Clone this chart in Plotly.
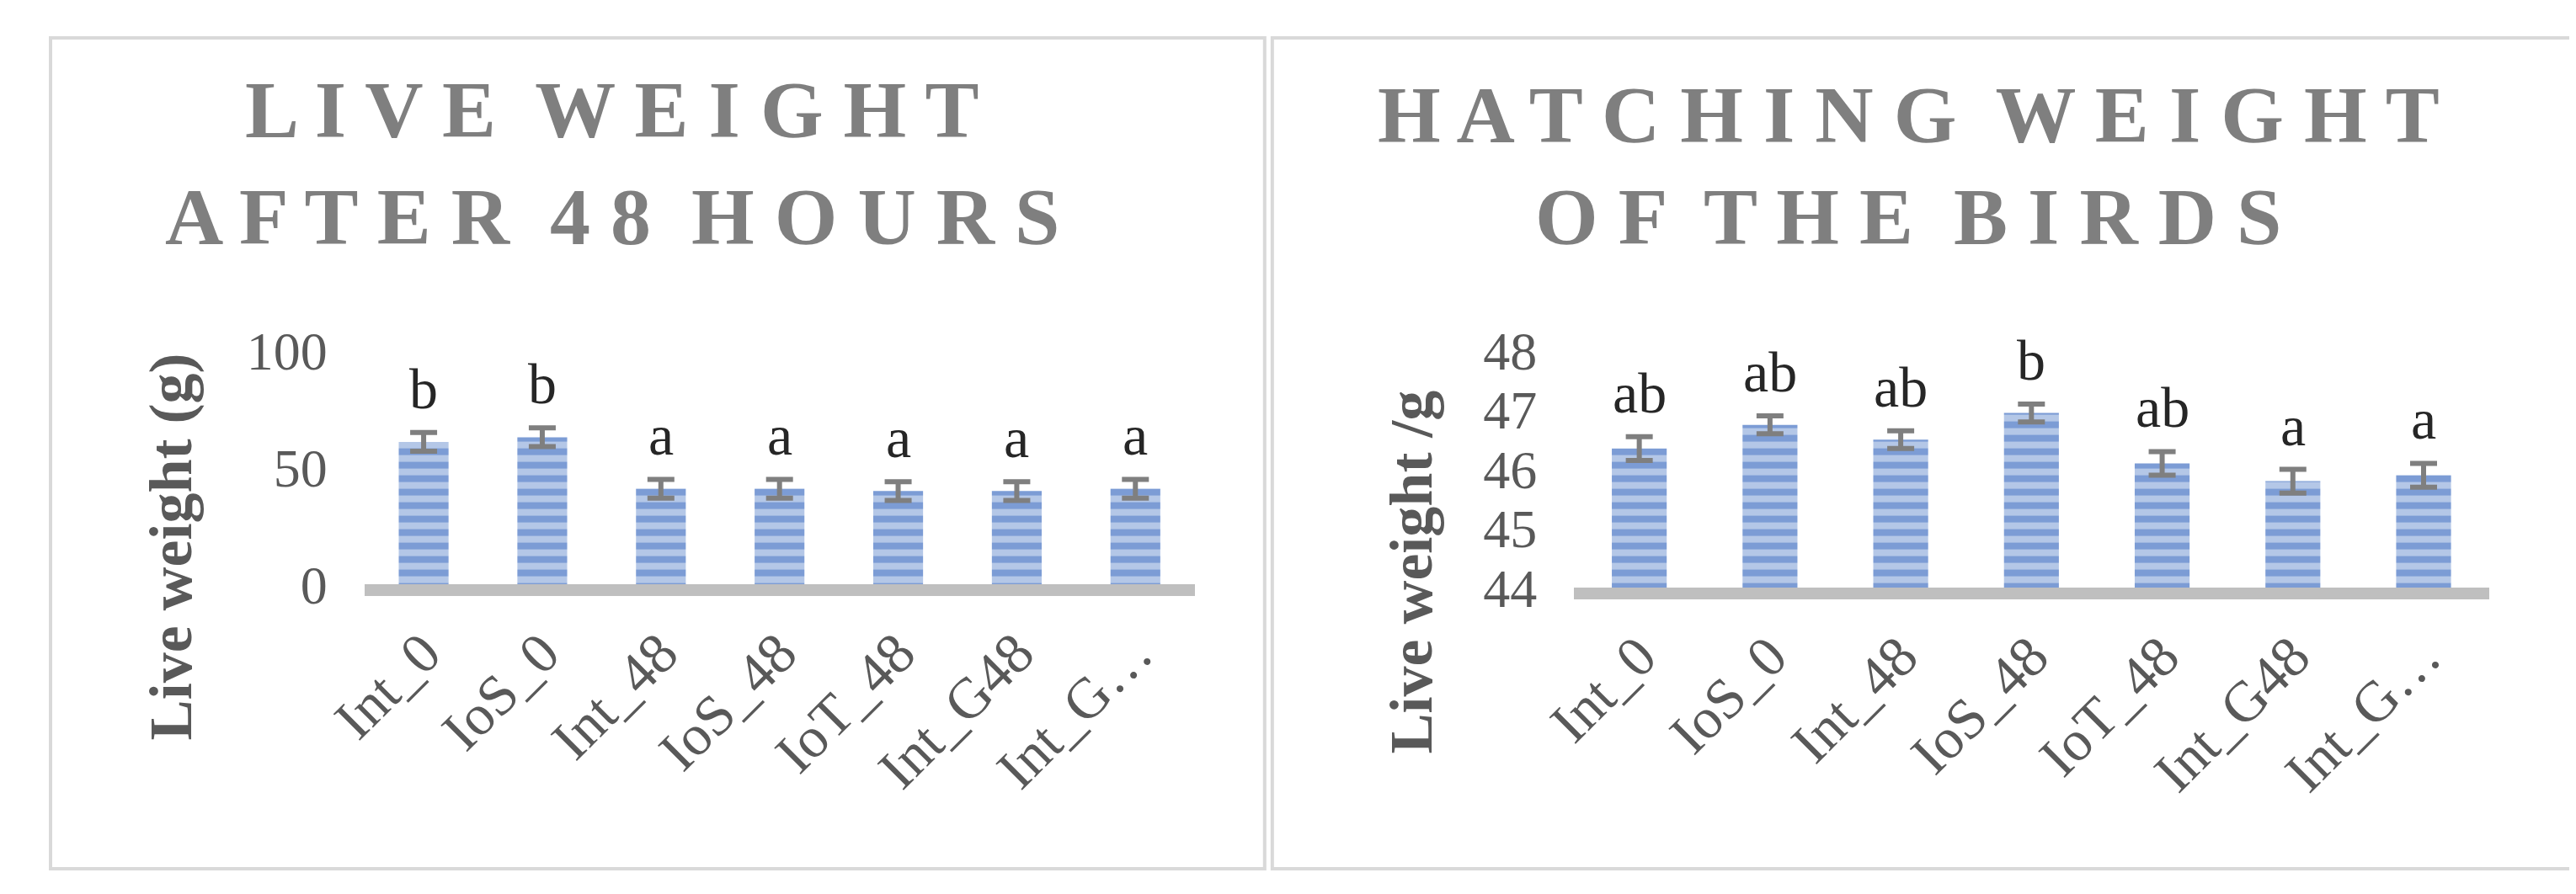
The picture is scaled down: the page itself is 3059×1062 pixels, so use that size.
import plotly.graph_objects as go

categories = ["Int_0", "IoS_0", "Int_48", "IoS_48", "IoT_48", "Int_G48", "Int_G…"]
live_48h = [61, 63, 41, 41, 40, 40, 41]
live_48h_err = [4, 4, 4, 4, 4, 4, 4]
live_48h_letters = ["b", "b", "a", "a", "a", "a", "a"]
hatch = [46.35, 46.75, 46.5, 46.95, 46.1, 45.8, 45.9]
hatch_err = [0.2, 0.15, 0.15, 0.15, 0.2, 0.2, 0.2]
hatch_letters = ["ab", "ab", "ab", "b", "ab", "a", "a"]

SERIF = "Liberation Serif"
fig = go.Figure()

def bar(y, err, xa, ya, base=None):
    fig.add_trace(go.Bar(
        x=categories, y=y, xaxis=xa, yaxis=ya, width=0.42, base=base,
        marker=dict(color="#B4C7E7", line=dict(width=0),
                    pattern=dict(shape="-", fgcolor="#4472C4", bgcolor="#B4C7E7", size=16, solidity=0.5)),
        error_y=dict(type="data", array=err, color="#7F7F7F", thickness=6, width=16),
        showlegend=False))

bar(live_48h, live_48h_err, "x", "y")
bar([v - 44 for v in hatch], hatch_err, "x2", "y2", base=44)

lfont = dict(family=SERIF, size=68, color="#262626")
for c, v, e, t in zip(categories, live_48h, live_48h_err, live_48h_letters):
    fig.add_annotation(x=c, y=v + e, xref="x", yref="y", text=t, showarrow=False,
                       xanchor="center", yanchor="bottom", yshift=12, font=lfont)
for c, v, e, t in zip(categories, hatch, hatch_err, hatch_letters):
    fig.add_annotation(x=c, y=v + e, xref="x2", yref="y2", text=t, showarrow=False,
                       xanchor="center", yanchor="bottom", yshift=12, font=lfont)

ytickfont = dict(family=SERIF, size=64, color="#595959")
xtickfont = dict(family=SERIF, size=68, color="#595959")
xcommon = dict(tickangle=-45, tickfont=xtickfont, showline=True, linecolor="#BFBFBF",
               linewidth=14, ticks="", showgrid=False, fixedrange=True)
fig.update_layout(
    width=3059, height=1062, margin=dict(l=0, r=0, t=0, b=0),
    paper_bgcolor="white", plot_bgcolor="white", bargap=0.4,
    xaxis=dict(domain=[0.1248, 0.4524], anchor="y", **xcommon),
    yaxis=dict(domain=[0.3426, 0.623], range=[0, 100], tickvals=[0, 50, 100],
               tickfont=ytickfont, showgrid=False, zeroline=False, ticks="outside",
               ticklen=30, tickcolor="white", anchor="x"),
    xaxis2=dict(domain=[0.602, 0.963], anchor="y2", **xcommon),
    yaxis2=dict(domain=[0.3386, 0.623], range=[44, 48], tickvals=[44, 45, 46, 47, 48],
                tickfont=ytickfont, showgrid=False, zeroline=False, ticks="outside",
                ticklen=30, tickcolor="white", anchor="x2"),
)

titlefont = dict(family=SERIF, size=96, color="#7F7F7F")
for x, y, t in [(0.2226, 0.9115, "<b>L I V E  W E I G H T</b>"),
                (0.2226, 0.784, "<b>A F T E R  4 8  H O U R S</b>"),
                (0.734, 0.906, "<b>H A T C H I N G  W E I G H T</b>"),
                (0.734, 0.784, "<b>O F  T H E  B I R D S</b>")]:
    fig.add_annotation(x=x, y=y, xref="paper", yref="paper", text=t, showarrow=False,
                       xanchor="center", yanchor="middle", font=titlefont)

ytfont = dict(family=SERIF, size=72, color="#595959")
fig.add_annotation(x=0.0488, y=0.388, xref="paper", yref="paper",
                   text="<b>Live weight (g)</b>", textangle=-90, showarrow=False,
                   xanchor="center", yanchor="middle", font=ytfont)
fig.add_annotation(x=0.538, y=0.358, xref="paper", yref="paper",
                   text="<b>Live weight /g</b>", textangle=-90, showarrow=False,
                   xanchor="center", yanchor="middle", font=ytfont)

for x0, x1 in [(0.001, 0.480), (0.483, 0.999)]:
    fig.add_shape(type="rect", xref="paper", yref="paper", x0=x0, x1=x1, y0=0.002, y1=0.998,
                  line=dict(color="#D9D9D9", width=4))

fig.write_html("out.html")
